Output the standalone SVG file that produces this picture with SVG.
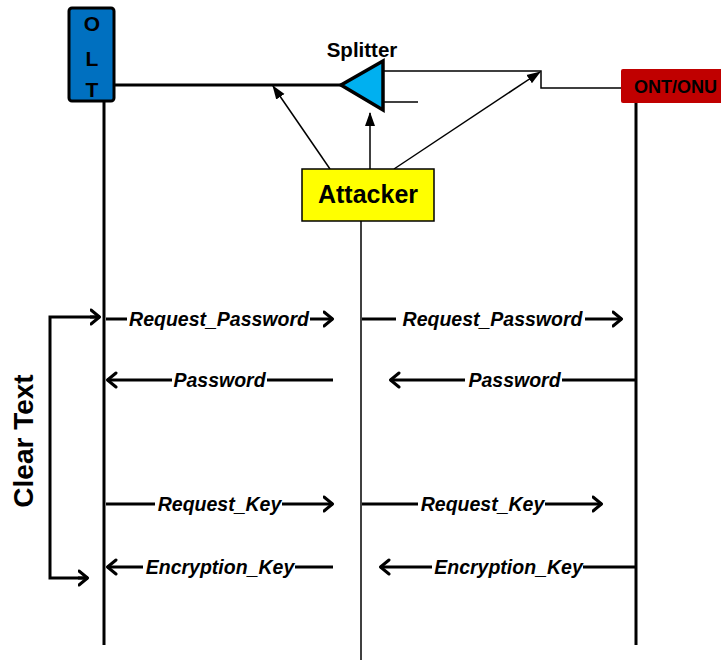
<svg xmlns="http://www.w3.org/2000/svg" width="721" height="660" viewBox="0 0 721 660">
  <style>
    .lbl { font-family: "Liberation Sans", Arial, sans-serif; font-weight: bold; fill: #000; }
    .msg { font-family: "Liberation Sans", Arial, sans-serif; font-weight: bold; font-style: italic; font-size: 19.5px; fill: #000; text-anchor: middle; }
    .thick { stroke: #000; stroke-width: 3; fill: none; }
    .thin { stroke: #000; stroke-width: 1.5; fill: none; }
  </style>
  <defs>
    <marker id="open" markerUnits="userSpaceOnUse" viewBox="0 0 12 18" refX="10.5" refY="9" markerWidth="12" markerHeight="18" orient="auto">
      <path d="M1.5,2 L10,9 L1.5,16" fill="none" stroke="#000" stroke-width="3" stroke-linecap="round" stroke-linejoin="round"/>
    </marker>
    <marker id="solid" markerUnits="userSpaceOnUse" viewBox="0 0 14 12" refX="13" refY="6" markerWidth="14" markerHeight="12" orient="auto">
      <path d="M0,1 L14,6 L0,11 Z" fill="#000"/>
    </marker>
  </defs>

  <rect width="721" height="660" fill="#fff"/>

  <g id="connectors">
    <!-- feeder fiber OLT to splitter -->
    <line class="thick" x1="114" y1="85" x2="341" y2="85"/>
    <!-- splitter outputs -->
    <polyline class="thin" points="383,71 541,71 541,88 622,88"/>
    <line class="thin" x1="383" y1="102" x2="418" y2="102"/>
    <!-- attacker taps -->
    <line class="thin" x1="330" y1="169" x2="273" y2="86" marker-end="url(#solid)"/>
    <line class="thin" x1="370" y1="169" x2="370" y2="113" marker-end="url(#solid)"/>
    <line class="thin" x1="394" y1="169" x2="540" y2="72" marker-end="url(#solid)"/>

    <!-- lifelines -->
    <line class="thick" x1="104" y1="101" x2="104" y2="645"/>
    <line class="thick" x1="636" y1="103" x2="636" y2="645"/>
    <line class="thin" x1="361" y1="221" x2="361" y2="660"/>

    <!-- clear text bracket -->
    <polyline class="thick" points="99,317 50,317 50,578 88,578"/>
    <line class="thick" x1="90" y1="317" x2="100" y2="317" marker-end="url(#open)"/>
    <line class="thick" x1="78" y1="578" x2="88" y2="578" marker-end="url(#open)"/>

    <!-- Request_Password -->
    <line class="thick" x1="106" y1="319" x2="127" y2="319"/>
    <line class="thick" x1="310" y1="319" x2="333" y2="319" marker-end="url(#open)"/>
    <text class="msg" x="219" y="326">Request_Password</text>
    <line class="thick" x1="362" y1="319" x2="396" y2="319"/>
    <line class="thick" x1="585" y1="319" x2="622" y2="319" marker-end="url(#open)"/>
    <text class="msg" x="492.5" y="326">Request_Password</text>

    <!-- Password -->
    <line class="thick" x1="172" y1="380" x2="107" y2="380" marker-end="url(#open)"/>
    <line class="thick" x1="267" y1="380" x2="333" y2="380"/>
    <text class="msg" x="219.5" y="387">Password</text>
    <line class="thick" x1="465" y1="380" x2="390" y2="380" marker-end="url(#open)"/>
    <line class="thick" x1="562" y1="380" x2="636" y2="380"/>
    <text class="msg" x="514.5" y="387">Password</text>

    <!-- Request_Key -->
    <line class="thick" x1="106" y1="504" x2="155" y2="504"/>
    <line class="thick" x1="282" y1="504" x2="333" y2="504" marker-end="url(#open)"/>
    <text class="msg" x="219.5" y="511">Request_Key</text>
    <line class="thick" x1="362" y1="504" x2="418" y2="504"/>
    <line class="thick" x1="545" y1="504" x2="602" y2="504" marker-end="url(#open)"/>
    <text class="msg" x="482.5" y="511">Request_Key</text>

    <!-- Encryption_Key -->
    <line class="thick" x1="143" y1="567" x2="107" y2="567" marker-end="url(#open)"/>
    <line class="thick" x1="295" y1="567" x2="333" y2="567"/>
    <text class="msg" x="220" y="574">Encryption_Key</text>
    <line class="thick" x1="432" y1="567" x2="380" y2="567" marker-end="url(#open)"/>
    <line class="thick" x1="583" y1="567" x2="636" y2="567"/>
    <text class="msg" x="508.5" y="574">Encryption_Key</text>
  </g>

  <g id="olt">
    <rect x="69" y="8" width="45" height="93" rx="3" fill="#0070C0" stroke="#000" stroke-width="3"/>
    <text class="lbl" x="92" y="31" font-size="21" text-anchor="middle">O</text>
    <text class="lbl" x="92" y="66" font-size="21" text-anchor="middle">L</text>
    <text class="lbl" x="92" y="97" font-size="21" text-anchor="middle">T</text>
  </g>

  <g id="splitter">
    <polygon points="341,85 383,61 383,110" fill="#00B0F0" stroke="#000" stroke-width="3.5" stroke-linejoin="miter"/>
    <text class="lbl" x="362" y="57" font-size="20.5" text-anchor="middle">Splitter</text>
  </g>

  <g id="ont">
    <rect x="621" y="69" width="110" height="34" rx="2" fill="#C00000"/>
    <text class="lbl" x="634" y="93" font-size="18">ONT/ONU</text>
  </g>

  <g id="attacker">
    <rect x="302" y="169" width="132" height="52" fill="#FFFF00" stroke="#000" stroke-width="1.5"/>
    <text class="lbl" x="368" y="203" font-size="25" text-anchor="middle">Attacker</text>
  </g>

  <g id="clear-text">
    <text class="lbl" font-size="28" text-anchor="middle" transform="translate(33,441) rotate(-90)">Clear Text</text>
  </g>
</svg>
